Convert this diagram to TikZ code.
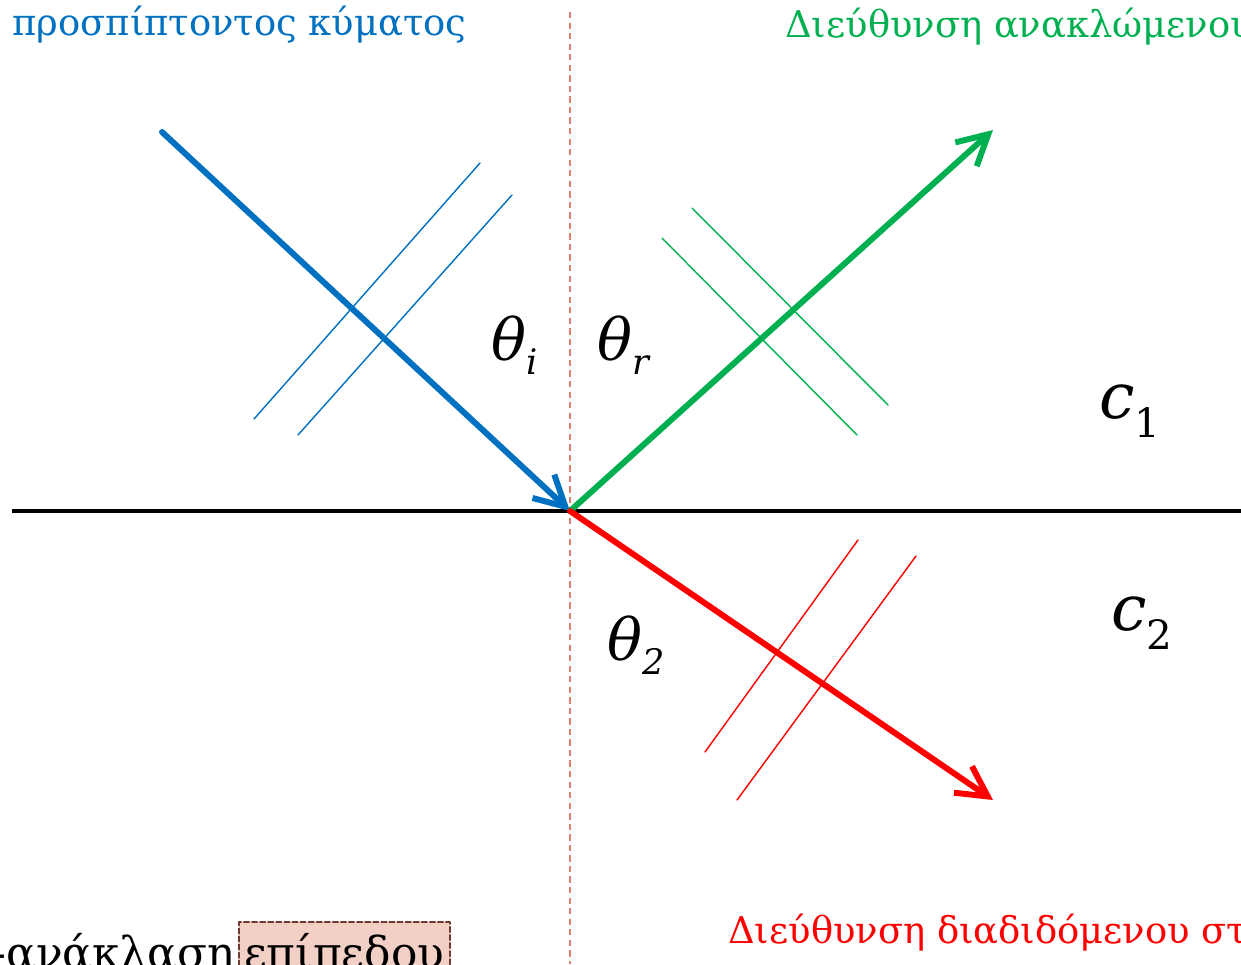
\documentclass[tikz,border=0pt]{standalone}
\usepackage{fontspec}
\setmainfont{DejaVu Serif}
\usetikzlibrary{arrows.meta}

\definecolor{incblue}{HTML}{0070C0}
\definecolor{refgreen}{HTML}{00B050}
\definecolor{trred}{HTML}{FF0000}
\definecolor{normsalmon}{HTML}{E0806C}
\definecolor{boxfill}{HTML}{F2D0C6}
\definecolor{boxedge}{HTML}{6E3A2E}

% angle symbol with a subscript
\newcommand{\angsub}[1]{\fontsize{33}{33}\selectfont\itshape θ\raisebox{-8pt}{\fontsize{20}{20}\selectfont #1}}
\newcommand{\medsub}[1]{\fontsize{36}{36}\selectfont\itshape c\raisebox{-11pt}{\fontsize{23}{23}\selectfont\upshape #1}}

\begin{document}
\begin{tikzpicture}[
		x=0.02cm,
		y=-0.02cm,
		line cap=round,
		line join=round,
		ray/.style={
			line width=3.4pt,
			-{Straight Barb[length=6mm,width=6.4mm]}
		},
		front/.style={
			line width=0.8pt
		},
		label/.style={
			inner sep=0pt,
			font=\fontsize{21}{21}\selectfont
		}
		]
		
		% frame
		\useasboundingbox (0,0) rectangle (1241,964);
		\clip (0,0) rectangle (1241,964);
		
		% key points
		\coordinate (O)     at (570, 511);
		\coordinate (surfL) at (12, 511);
		\coordinate (surfR) at (1241, 511);
		\coordinate (normT) at (570, 12);
		\coordinate (normB) at (570, 964);
		
		% ray ends
		\coordinate (inc)  at (162, 132);
		\coordinate (refl) at (993, 130);
		\coordinate (tran) at (993, 800);
		
		% interface and normal
		\draw[line width=2.3pt,line cap=butt] (surfL) -- (surfR);
		\draw[normsalmon,line width=0.8pt,line cap=butt,dash pattern=on 3.6pt off 2.4pt] (normT) -- (normB);
		
		% wave fronts
		\draw[front,incblue] (254,419) -- (480,163);
		\draw[front,incblue] (298,435) -- (512,195);
		\draw[front,refgreen] (662,238) -- (857,435);
		\draw[front,refgreen] (692,208) -- (888,405);
		\draw[front,trred] (705,752) -- (858,540);
		\draw[front,trred] (737,800) -- (916,556);
		
		% rays
		\draw[ray,incblue] (inc) -- (O);
		\draw[ray,refgreen] (O) -- (refl);
		\draw[ray,trred] (O) -- (tran);
		
		% angles and media
		\node[anchor=base west,inner sep=0pt] (thi) at (491, 360) {\angsub{i}};
		\node[anchor=base west,inner sep=0pt] (thr) at (597, 360) {\angsub{r}};
		\node[anchor=base west,inner sep=0pt] (th2) at (607, 660) {\angsub{2}};
		\node[anchor=base west,inner sep=0pt] (c1)  at (1099, 418) {\medsub{1}};
		\node[anchor=base west,inner sep=0pt] (c2)  at (1111, 630) {\medsub{2}};
		
		% captions
		\node[label,anchor=base east,text=incblue] (inctext) at (467, 35) {Διεύθυνση προσπίπτοντος κύματος};
		\node[label,anchor=base west,text=refgreen] (reftext) at (785, 37) {Διεύθυνση ανακλώμενου κύματος};
		\node[label,anchor=base west,text=trred] (trtext) at (728, 943) {Διεύθυνση διαδιδόμενου στο};
		
		% slide title
		\node[anchor=base east,inner sep=0pt,font=\fontsize{25}{25}\selectfont] (ttl) at (234, 968) {-ανάκλαση};
		\node[anchor=base west,font=\fontsize{25}{25}\selectfont,fill=boxfill,draw=boxedge,line width=1.1pt,dash pattern=on 3pt off 1.6pt,inner xsep=3pt,inner ysep=6pt] (ttlbox) at (238, 968) {επίπεδου};
	\end{tikzpicture}
\end{document}
